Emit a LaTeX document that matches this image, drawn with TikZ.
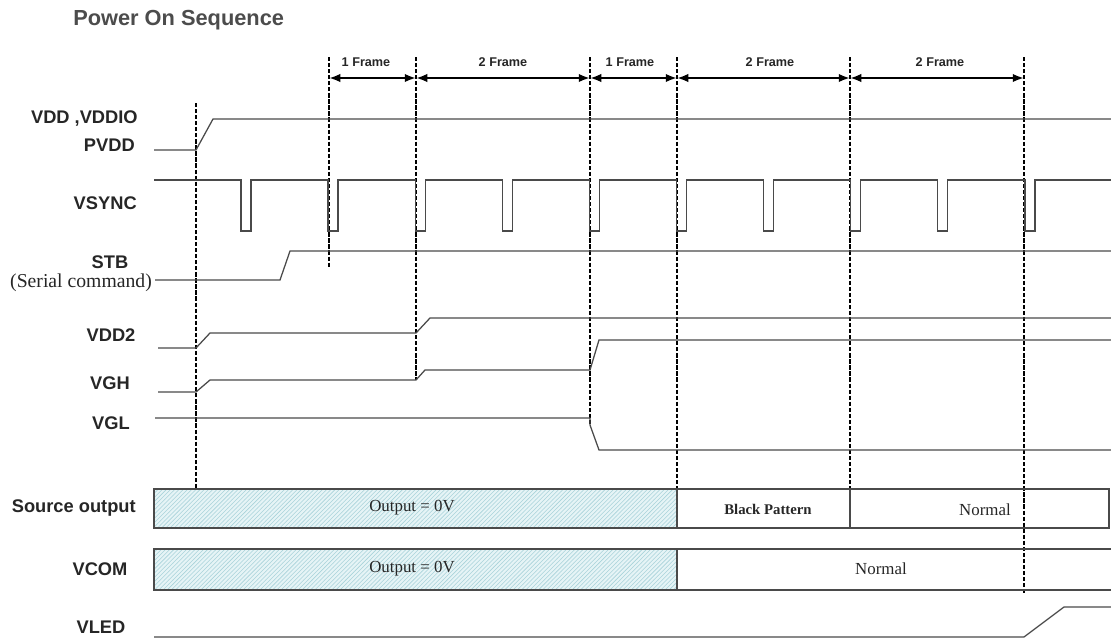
\documentclass[tikz,border=0pt]{standalone}
\usepackage{fontspec}
\setmainfont{Liberation Serif}
\setsansfont{Liberation Sans}
\usetikzlibrary{arrows.meta}
\usetikzlibrary{patterns}
\definecolor{wavegray}{HTML}{4A4A4A}
\definecolor{hatchblue}{HTML}{A9D3DA}
\definecolor{zerofill}{HTML}{E6F4F6}
\tikzset{
  sig_label/.style = {inner sep=0pt, text=black!85,
    font=\sffamily\bfseries\fontsize{13}{15}\selectfont},% nom du signal
  frame_label/.style = {inner sep=0pt, text=black!85,
    font=\sffamily\bfseries\fontsize{9}{11}\selectfont},% duree en trames
  box_text/.style = {inner sep=0pt, text=black!85,
    font=\fontsize{12}{14}\selectfont},% texte dans les bandes
  sig_line/.style = {draw=wavegray, line width=0.9pt},% forme d'onde
  mark_line/.style = {draw=black, line width=1.2pt,
    dash pattern=on 3pt off 1.3pt},% repere vertical
  frame_arrow/.style = {{Latex[length=8pt,width=6pt]}-{Latex[length=8pt,width=6pt]},
    line width=1.5pt},% fleche de duree
  zero_band/.style = {preaction={fill=zerofill}, pattern=north east lines,
    pattern color=hatchblue}% sortie a 0V
}
\begin{document}
\begin{tikzpicture}[x=0.025cm, y=-0.025cm]
  \useasboundingbox (0,0) rectangle (1111,639);
  \node [anchor=west, inner sep=0pt, text=black!70,
    font=\sffamily\bfseries\fontsize{15.5}{17}\selectfont] (title) at (73,20) {Power On Sequence};

  % noms des signaux
  \node [sig_label, anchor=east] (lbl_vdd) at (138,119) {VDD ,VDDIO};
  \node [sig_label, anchor=east] (lbl_pvdd) at (135,145) {PVDD};
  \node [sig_label, anchor=east] (lbl_vsync) at (137,203) {VSYNC};
  \node [sig_label] (lbl_stb) at (110,262) {STB};
  \node [inner sep=0pt, text=black!85, font=\fontsize{14}{16}\selectfont]
    (lbl_serial) at (81,283) {(Serial command)};
  \node [sig_label] (lbl_vdd2) at (111,335) {VDD2};
  \node [sig_label] (lbl_vgh) at (110,383) {VGH};
  \node [sig_label] (lbl_vgl) at (111,423) {VGL};
  \node [sig_label, anchor=east] (lbl_src) at (136,508) {Source output};
  \node [sig_label] (lbl_vcom) at (100,569) {VCOM};
  \node [sig_label] (lbl_vled) at (101,627) {VLED};

  % reperes verticaux
  \draw [mark_line] (196,103) -- (196,489);
  \draw [mark_line] (329,57) -- (329,268);
  \draw [mark_line] (416,57) -- (416,380);
  \draw [mark_line] (590,57) -- (590,425);
  \draw [mark_line] (677,57) -- (677,489);
  \draw [mark_line] (850,57) -- (850,489);
  \draw [mark_line] (1024,57) -- (1024,595);

  % durees
  \foreach \name/\xx in {t1/329, t2/416, t3/590, t4/677, t5/850, t6/1024}
    \coordinate (\name) at (\xx,78);
  \foreach \a/\b in {t1/t2, t2/t3, t3/t4, t4/t5, t5/t6}
    \draw [frame_arrow] (\a) -- (\b);
  \node [frame_label] (f1) at (366,62) {1 Frame};
  \node [frame_label] (f2) at (503,62) {2 Frame};
  \node [frame_label] (f3) at (630,62) {1 Frame};
  \node [frame_label] (f4) at (770,62) {2 Frame};
  \node [frame_label] (f5) at (940,62) {2 Frame};

  % formes d'onde
  \draw [sig_line] (154,150) -- (196,150) -- (213,119) -- (1111,119);
  \draw [sig_line] (154,180) \foreach \i in {0,...,9}{
      -- ({241+87.1*\i},180) -- ++(0,51) -- ++(10,0) -- ++(0,-51)} -- (1111,180);
  \draw [sig_line] (155,280) -- (280,280) -- (290,251) -- (1111,251);
  \draw [sig_line] (158,348) -- (196,348) -- (210,333) -- (416,333) -- (430,318) -- (1111,318);
  \draw [sig_line] (158,392) -- (196,392) -- (210,380) -- (416,380) -- (425,370)
    -- (590,370) -- (599,340) -- (1111,340);
  \draw [sig_line] (155,418) -- (590,418) -- (590,425) -- (599,450) -- (1111,450);
  \draw [sig_line] (154,637) -- (1024,637) -- (1064,607) -- (1111,607);

  % bandes de sortie
  \fill [zero_band] (154,489) rectangle (677,528);
  \fill [zero_band] (154,549) rectangle (677,590);
  \draw [sig_line] (154,489) rectangle (1109,528);
  \draw [sig_line] (677,489) -- (677,528) (850,489) -- (850,528);
  \draw [sig_line] (1111,549) -- (154,549) -- (154,590) -- (1111,590);
  \draw [sig_line] (677,549) -- (677,590);
  \node [box_text] (src_zero) at (412,508) {Output = 0V};
  \node [box_text, font=\bfseries\fontsize{10.5}{12}\selectfont] (src_black) at (768,509) {Black Pattern};
  \node [box_text] (src_normal) at (985,510) {Normal};
  \node [box_text] (com_zero) at (412,569) {Output = 0V};
  \node [box_text] (com_normal) at (881,569) {Normal};
\end{tikzpicture}
\end{document}
